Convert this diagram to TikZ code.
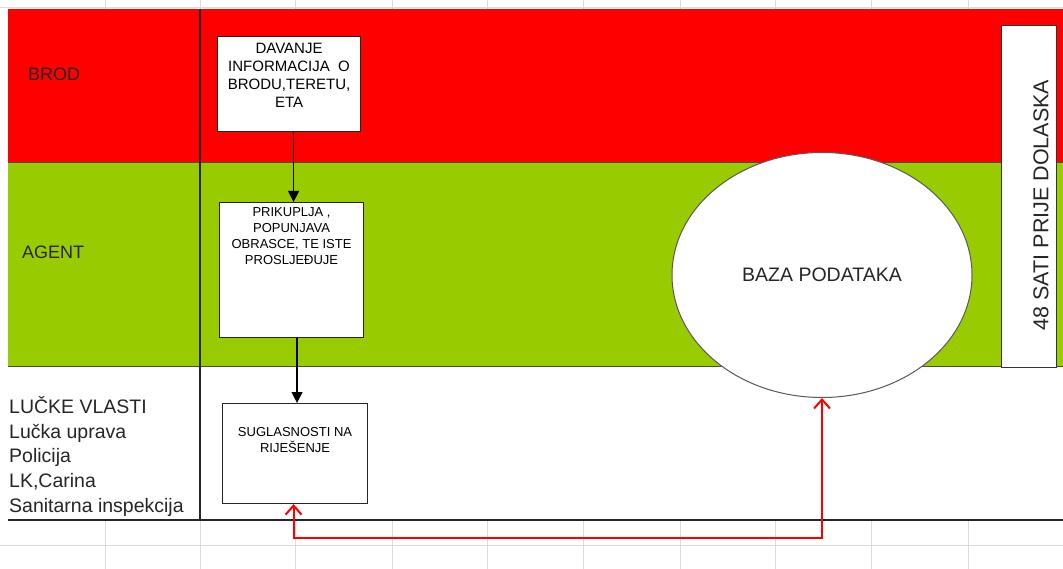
\documentclass[tikz,border=0pt]{standalone}
\usepackage{fontspec}
\setmainfont{Liberation Sans}
\usetikzlibrary{arrows.meta,shapes.geometric,calc}
\definecolor{shipred}{RGB}{255,0,0}
\definecolor{agentgreen}{RGB}{153,204,0}
\definecolor{gridgray}{RGB}{220,220,220}
\begin{document}
\begin{tikzpicture}[x=1pt,y=-1pt,
  bandline/.style={draw=black!70,line width=0.6pt},
  procbox/.style={draw=black!85,line width=1.1pt,fill=white,inner sep=0pt,anchor=north west},
  flow/.style={-{Triangle[length=11pt,width=11pt]},line width=1.2pt},
  dbflow/.style={{Straight Barb[length=9pt,width=16pt]}-{Straight Barb[length=9pt,width=16pt]},draw=red,line width=2pt},
  lane/.style={font=\fontsize{18}{20}\selectfont,anchor=west,text=black!85,inner sep=0pt}]

\useasboundingbox (0,0) rectangle (1063,569);
\fill[white] (0,0) rectangle (1063,569);
% spreadsheet grid
\foreach \x in {105,200,295,392,487,583,680,775,871,968}
  \draw[gridgray,line width=0.9pt] (\x,0) -- (\x,569);
\draw[gridgray,line width=0.9pt] (0,545) -- (1063,545);
\draw[gridgray,line width=0.9pt] (0,7) -- (1063,7);

% bands
\fill[shipred] (8,9) rectangle (1063,162);
\fill[agentgreen] (8,162) rectangle (1063,366);
\fill[white] (8,366) rectangle (1063,520);
\draw[bandline] (8,162) -- (1063,162);
\draw[bandline] (8,366) -- (1063,366);
\draw[black!85,line width=1.5pt] (8,520) -- (1063,520);
\draw[black!85,line width=1.3pt] (200,9) -- (200,520);

% lane labels
\node[lane] (brod) at (28,74) {BROD};
\node[lane] (agent) at (22,252) {AGENT};
\node[anchor=north west,inner sep=0pt,align=left,text=black!85,
      font=\fontsize{19.5}{24.8}\selectfont] (luka) at (9,396)
  {LUČKE VLASTI\\Lučka uprava\\Policija\\LK,Carina\\Sanitarna inspekcija};

% process boxes
\node[procbox] (b1) at (217,36)
  {\parbox[t][95pt][t]{143pt}{\centering\fontsize{15}{18}\selectfont\vspace*{7pt}
   DAVANJE\\INFORMACIJA\ \ O\\BRODU,TERETU,\\ETA}};
\node[procbox] (b2) at (219,202)
  {\parbox[t][135pt][t]{144pt}{\centering\fontsize{13}{16}\selectfont\vspace*{5pt}
   PRIKUPLJA ,\\POPUNJAVA\\OBRASCE, TE ISTE\\PROSLJEĐUJE}};
\node[procbox] (b3) at (222,403)
  {\parbox[t][100pt][t]{145pt}{\centering\fontsize{13}{15.5}\selectfont\vspace*{24pt}
   SUGLASNOSTI NA\\RIJEŠENJE}};

% database
\node[ellipse,draw=black!65,line width=1pt,fill=white,minimum width=300pt,minimum height=245pt,
      inner sep=0pt,font=\fontsize{19.5}{22}\selectfont,text=black!85] (db) at (822,275) {BAZA PODATAKA};

% timing box
\node[draw=black!80,line width=1pt,fill=white,anchor=north west,minimum width=55pt,minimum height=342pt,inner sep=0pt] (time) at (1001,25) {};
\node[rotate=90,font=\fontsize{21.5}{24}\selectfont,text=black!85,inner sep=0pt] (timetxt) at (1041,205) {48 SATI PRIJE DOLASKA};

% connectors
\draw[flow] ([xshift=4.5pt]b1.south) -- ([xshift=4.5pt]b1.south |- b2.north);
\draw[flow] ([xshift=5.5pt]b2.south) -- ([xshift=5.5pt]b2.south |- b3.north);
\coordinate (low) at (0,538);
\draw[dbflow] (db.south) -- (db.south |- low) -| ([xshift=-1.5pt]b3.south);
\end{tikzpicture}
\end{document}
